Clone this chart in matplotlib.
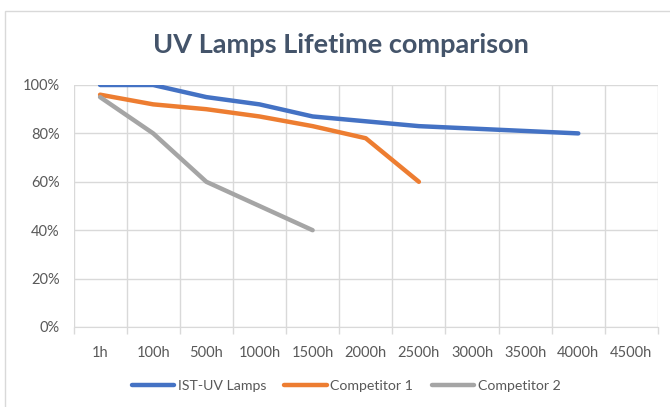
import matplotlib.pyplot as plt
from matplotlib.patches import Rectangle
import numpy as np

categories = ['1h', '100h', '500h', '1000h', '1500h', '2000h', '2500h', '3000h', '3500h', '4000h', '4500h']
ist_uv = [1.00, 1.00, 0.95, 0.92, 0.87, 0.85, 0.83, 0.82, 0.81, 0.80]
competitor1 = [0.96, 0.92, 0.90, 0.87, 0.83, 0.78, 0.60]
competitor2 = [0.95, 0.80, 0.60, 0.50, 0.40]

plt.rcParams['font.family'] = ['Lato', 'DejaVu Sans']

fig = plt.figure(figsize=(6.7, 4.07), dpi=100)
fig.patches.append(Rectangle((5 / 670, -0.1), 1.1, (1 - 11 / 407) + 0.1, transform=fig.transFigure,
                             facecolor='white', edgecolor='#D9D9D9', lw=1, zorder=-5))
ax = fig.add_axes([73.5 / 670, 80 / 407, 584.5 / 670, 242 / 407])
ax.set_facecolor('none')

x = np.arange(len(categories))
ax.plot(x[:len(ist_uv)], ist_uv, color='#4472C4', lw=3.2, solid_capstyle='round', label='IST-UV Lamps')
ax.plot(x[:len(competitor1)], competitor1, color='#ED7D31', lw=3.2, solid_capstyle='round', label='Competitor 1')
ax.plot(x[:len(competitor2)], competitor2, color='#A5A5A5', lw=3.2, solid_capstyle='round', label='Competitor 2')

ax.set_xlim(-0.5, len(categories) - 0.5)
ax.set_ylim(0, 1)
ax.set_yticks(np.arange(0, 1.01, 0.2))
ax.set_yticklabels(['{:.0%}'.format(v) for v in np.arange(0, 1.01, 0.2)])
ax.set_xticks(x)
ax.set_xticklabels(categories)
ax.set_xticks(np.arange(-0.5, len(categories)), minor=True)
ax.tick_params(axis='x', which='major', length=0, pad=14, labelsize=10.5, labelcolor='#595959')
ax.tick_params(axis='x', which='minor', length=5, color='#D9D9D9', width=1)
ax.tick_params(axis='y', length=0, pad=10, labelsize=10.5, labelcolor='#595959')
ax.grid(True, axis='y', color='#D9D9D9', lw=1)
ax.grid(True, axis='x', which='minor', color='#D9D9D9', lw=1)
ax.set_axisbelow(True)
for s in ['top', 'right', 'left']:
    ax.spines[s].set_visible(False)
ax.spines['bottom'].set_color('#D9D9D9')

fig.text(341 / 670, 1 - 45 / 407, 'UV Lamps Lifetime comparison', ha='center', va='center',
         fontsize=19.5, fontweight='bold', color='#44546A')

fig.legend(loc='center', bbox_to_anchor=(346 / 670, 1 - 386 / 407), ncol=3, frameon=False,
           fontsize=10.2, labelcolor='#595959', handlelength=3.0, handletextpad=0.25, columnspacing=1.3)

fig.savefig('out.png', dpi=100)
